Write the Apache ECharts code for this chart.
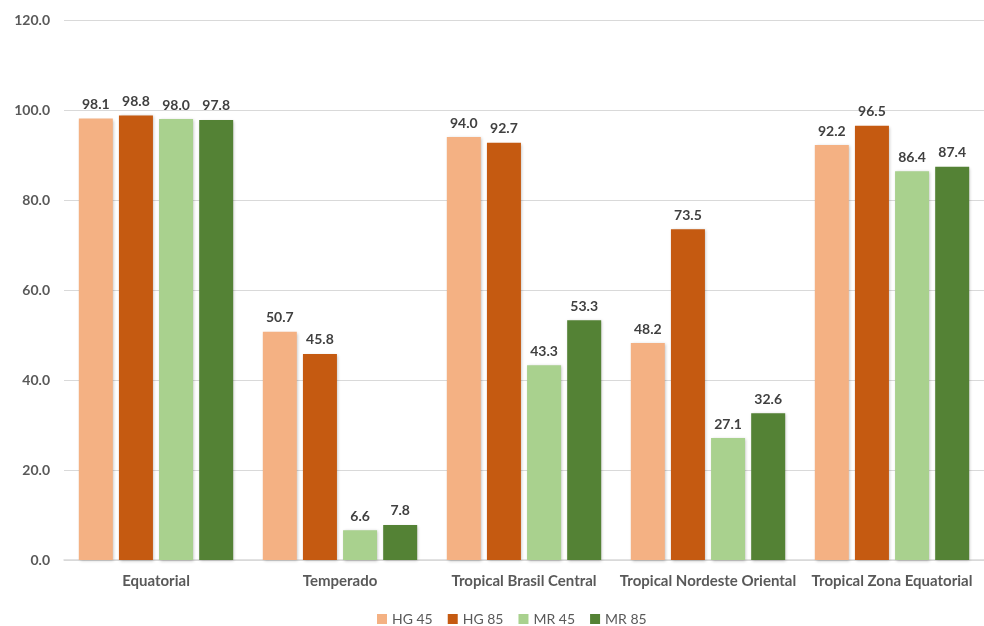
<!DOCTYPE html>
<html><head><meta charset="utf-8">
<script src="https://cdn.jsdelivr.net/npm/echarts@6/dist/echarts.min.js"></script>
<style>html,body{margin:0;padding:0;background:#fff}#c{width:984px;height:626px}</style>
</head><body><div id="c"></div>
<script>
const categories = ['Equatorial','Temperado','Tropical Brasil Central','Tropical Nordeste Oriental','Tropical Zona Equatorial'];
const seriesNames = ['HG 45','HG 85','MR 45','MR 85'];
const hg45 = [98.1, 50.7, 94.0, 48.2, 92.2];
const hg85 = [98.8, 45.8, 92.7, 73.5, 96.5];
const mr45 = [98.0, 6.6, 43.3, 27.1, 86.4];
const mr85 = [97.8, 7.8, 53.3, 32.6, 87.4];
const colors = ['#F4B183','#C55A11','#A9D18E','#548235'];
const values = [hg45, hg85, mr45, mr85];
const font = 'Lato, "Liberation Sans", sans-serif';
const chart = echarts.init(document.getElementById('c'));
chart.setOption({
  animation:false,
  textStyle:{fontFamily:font},
  grid:{left:64,width:929,top:20,bottom:66},
  legend:{top:607,left:372,itemWidth:10,itemHeight:10,itemGap:15,icon:'rect',
    textStyle:{fontFamily:font,fontSize:14,color:'#595959'},data:seriesNames},
  xAxis:{type:'category',data:categories,
    axisLine:{lineStyle:{color:'#d9d9d9',width:1.5}},axisTick:{show:false},
    axisLabel:{fontFamily:font,fontSize:15,fontWeight:'bold',color:'#595959',margin:14,interval:0}},
  yAxis:{type:'value',min:0,max:120,interval:20,
    axisLine:{show:false},axisTick:{show:false},
    splitLine:{lineStyle:{color:'#d9d9d9'}},
    axisLabel:{fontFamily:font,fontSize:14,fontWeight:'bold',color:'#595959',margin:14,
      formatter:v=>v.toFixed(1)}},
  series: seriesNames.map((n,i)=>({
    name:n,type:'bar',data:values[i],barWidth:34,barGap:'18%',
    itemStyle:{color:colors[i],shadowColor:'rgba(0,0,0,0.25)',shadowBlur:3,shadowOffsetX:1,shadowOffsetY:1},
    label:{show:true,position:'top',distance:7,fontFamily:font,fontSize:14,fontWeight:'bold',color:'#404040',
      formatter:p=>p.value.toFixed(1)}
  }))
});
</script></body></html>
